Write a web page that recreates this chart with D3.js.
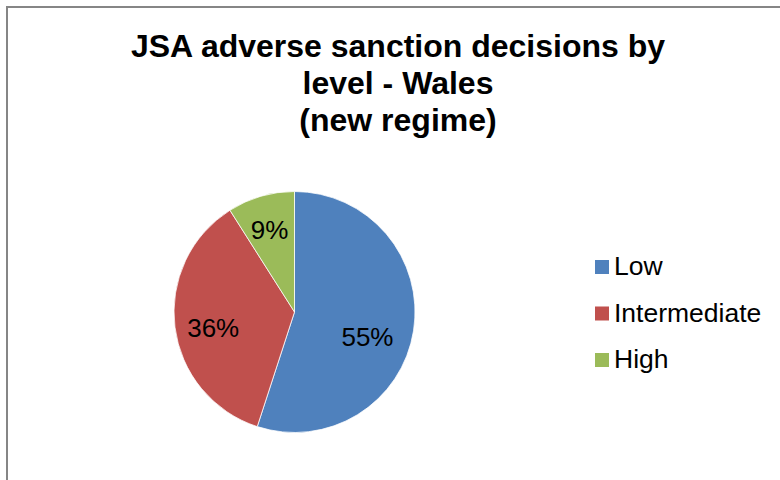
<!DOCTYPE html>
<html>
<head>
<meta charset="utf-8">
<script src="https://cdn.jsdelivr.net/npm/d3@7/dist/d3.min.js"></script>
<style>
  html, body { margin: 0; padding: 0; background: #fff; }
  svg { display: block; }
  text { font-family: "Liberation Sans", Arial, sans-serif; }
</style>
</head>
<body>
<svg id="chart" width="780" height="480"></svg>
<script>
// Sanction levels and their share of decisions (%)
const levels = ["Low", "Intermediate", "High"];
const shares = [55, 36, 9];
const levelColors = ["#4F81BD", "#C0504D", "#9BBB59"];
const titleLines = ["JSA adverse sanction decisions by", "level - Wales", "(new regime)"];

// Small per-slice shifts of the data labels away from the plain centroid
const labelShift = [[-8, 12], [0, 5], [-2, -4]];

const W = 780, H = 480;
const svg = d3.select("#chart");

// Chart area frame (runs off the right and bottom edges)
svg.append("rect")
  .attr("x", 7).attr("y", 7)
  .attr("width", W + 20).attr("height", H + 20)
  .attr("fill", "#fff")
  .attr("stroke", "#868686")
  .attr("stroke-width", 2);

// Title
svg.append("g").selectAll("text")
  .data(titleLines)
  .join("text")
  .attr("x", 398)
  .attr("y", (d, i) => 57 + i * 37)
  .attr("text-anchor", "middle")
  .attr("font-size", 32)
  .attr("font-weight", "bold")
  .attr("fill", "#000")
  .text(d => d);

// Pie
const cx = 294.5, cy = 312, radius = 120.5;
const color = d3.scaleOrdinal().domain(levels).range(levelColors);
const data = levels.map((k, i) => ({ level: k, value: shares[i] }));
const pie = d3.pie().value(d => d.value).sort(null);
const arcs = pie(data);
const arc = d3.arc().innerRadius(0).outerRadius(radius);
const labelArc = d3.arc().innerRadius(radius * 0.68).outerRadius(radius * 0.68);

const g = svg.append("g").attr("transform", `translate(${cx},${cy})`);
g.selectAll("path")
  .data(arcs)
  .join("path")
  .attr("d", arc)
  .attr("fill", d => color(d.data.level))
  .attr("stroke", "#fff")
  .attr("stroke-width", 0.75);

const total = d3.sum(shares);
g.selectAll("text.lbl")
  .data(arcs)
  .join("text")
  .attr("class", "lbl")
  .attr("transform", (d, i) => {
    const [x, y] = labelArc.centroid(d);
    return `translate(${x + labelShift[i][0]},${y + labelShift[i][1]})`;
  })
  .attr("text-anchor", "middle")
  .attr("dy", "0.36em")
  .attr("font-size", 26)
  .attr("fill", "#000")
  .text(d => Math.round(d.data.value / total * 100) + "%");

// Legend
const legend = svg.append("g").attr("transform", "translate(595,0)");
const rowY = d3.scalePoint().domain(levels).range([275, 368]);
const rows = legend.selectAll("g")
  .data(levels)
  .join("g")
  .attr("transform", d => `translate(0,${rowY(d)})`);
rows.append("rect")
  .attr("x", 0).attr("y", -15)
  .attr("width", 14).attr("height", 14)
  .attr("fill", d => color(d));
rows.append("text")
  .attr("x", 19).attr("y", 0)
  .attr("font-size", 26.5)
  .attr("fill", "#000")
  .text(d => d);
</script>
</body>
</html>
